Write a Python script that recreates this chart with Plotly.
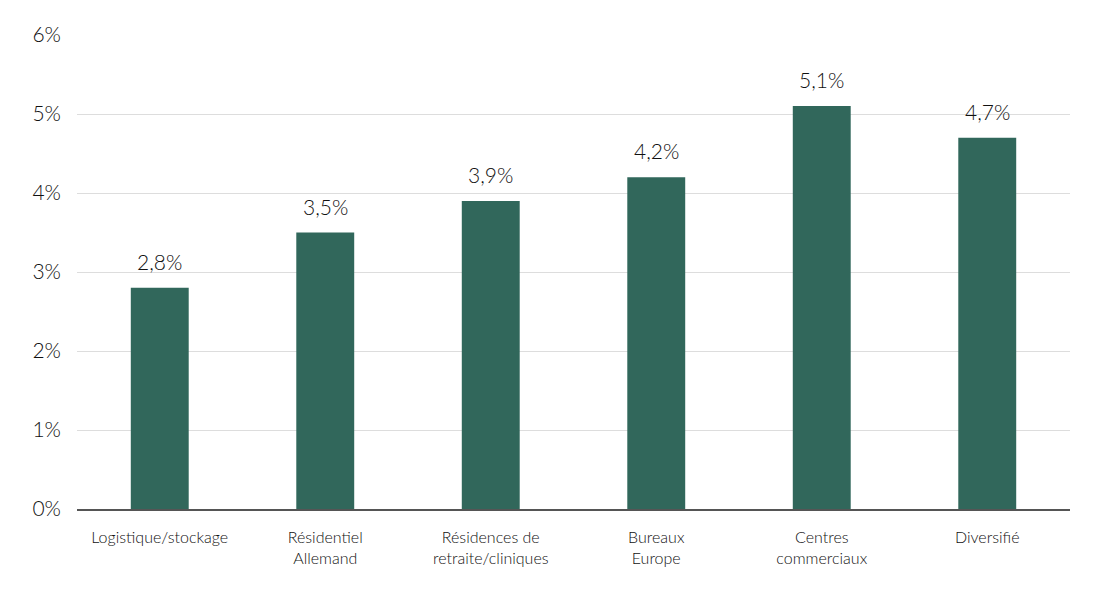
import plotly.graph_objects as go

categories = ["Logistique/stockage", "Résidentiel<br>Allemand", "Résidences de<br>retraite/cliniques",
              "Bureaux<br>Europe", "Centres<br>commerciaux", "Diversifié"]
values = [2.8, 3.5, 3.9, 4.2, 5.1, 4.7]
labels = ["2,8%", "3,5%", "3,9%", "4,2%", "5,1%", "4,7%"]
y_ticks = [0, 1, 2, 3, 4, 5, 6]
y_tick_text = ["0%", "1%", "2%", "3%", "4%", "5%", "6%"]

fig = go.Figure(go.Bar(
    x=categories, y=values,
    marker=dict(color="#31675B", line=dict(width=0)),
    cliponaxis=False,
))

for c, v, t in zip(categories, values, labels):
    fig.add_annotation(x=c, y=v, text=t, showarrow=False, yanchor="bottom", yshift=12,
                       font=dict(size=21, color="#111111", family="Lato", weight=300))

fig.update_layout(
    width=1100, height=603,
    margin=dict(l=69, r=38, t=27, b=102, autoexpand=False),
    plot_bgcolor="white", paper_bgcolor="white",
    bargap=0.65,
    showlegend=False,
    font=dict(family="Lato", color="#111111", weight=300),
    xaxis=dict(
        automargin=False,
        showgrid=False, showline=True, linecolor="#555555", linewidth=2,
        tickfont=dict(size=16, family="Lato", weight=300, color="#111111"), ticks="", ticklabelstandoff=13,
    ),
    yaxis=dict(
        automargin=False,
        range=[0, 6], tickvals=y_ticks, ticktext=y_tick_text,
        showgrid=True, gridcolor="#dddddd", gridwidth=1,
        zeroline=False, showline=False, ticks="",
        tickfont=dict(size=21, family="Lato", weight=300, color="#111111"), ticklabelstandoff=15,
    ),
)

fig.write_html("out.html")
